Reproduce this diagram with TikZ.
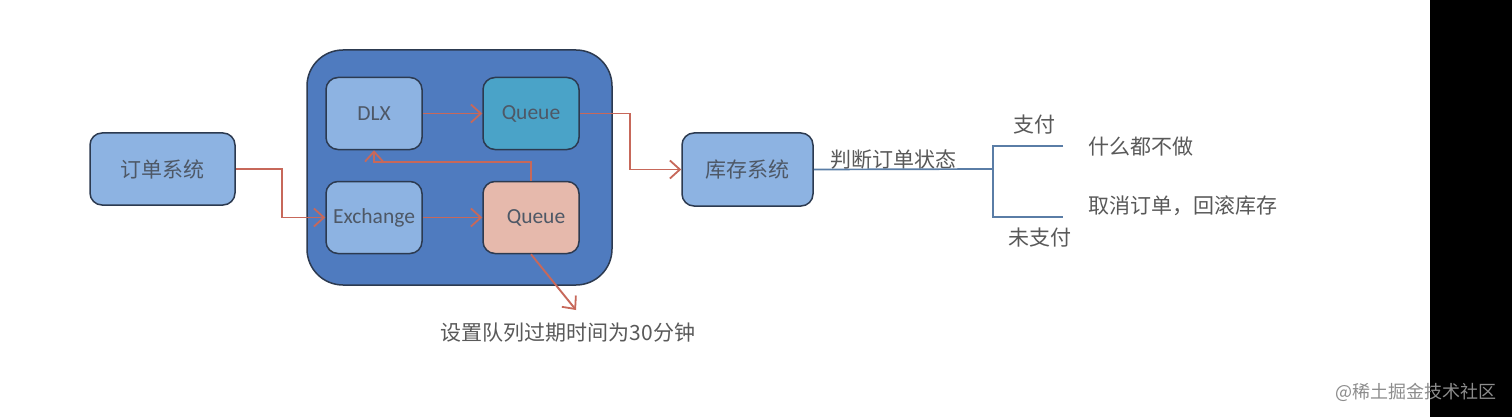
\documentclass[tikz,border=0pt]{standalone}
\usepackage{fontspec}
\setmainfont{Carlito}
\newfontfamily\cjk{Noto Sans CJK SC}
\usetikzlibrary{positioning, arrows.meta}
\definecolor{outerblue}{HTML}{4F7BBF}
\definecolor{lightblue}{HTML}{8DB3E2}
\definecolor{tealq}{HTML}{4AA3C8}
\definecolor{pinkq}{HTML}{E6B9AC}
\definecolor{edgec}{HTML}{2C3A50}
\definecolor{redline}{HTML}{C7685A}
\definecolor{txt}{HTML}{595959}
\definecolor{boxtxt}{HTML}{4E5866}
\definecolor{bracket}{HTML}{5A7DA6}
\tikzset{
  sysbox/.style={draw=edgec, fill=lightblue, rounded corners=12pt, line width=1.5pt,
                 align=center, text=boxtxt, font=\cjk\fontsize{21}{25}\selectfont},
  mqbox/.style={draw=edgec, fill=lightblue, rounded corners=12pt, line width=1.5pt,
                minimum width=96pt, minimum height=72pt, align=center, text=boxtxt,
                font=\fontsize{21.5}{25}\selectfont},
  arr/.style={-{Straight Barb[length=10pt, width=18pt, line width=1.8pt]}, draw=redline,
              line width=1.9pt},
  bline/.style={draw=bracket, line width=1.7pt},
  lbl/.style={text=txt, inner sep=0pt, font=\cjk\fontsize{21}{25}\selectfont},
}
\begin{document}
\begin{tikzpicture}[x=1pt, y=-1pt]
  \useasboundingbox (0,0) rectangle (1512,417);
  \fill[white] (0,0) rectangle (1512,417);
  \fill[black] (1430,0) rectangle (1512,417);

  \node[draw=edgec, fill=outerblue, rounded corners=36pt, line width=1.5pt,
        minimum width=305pt, minimum height=235pt] (mq) at (459.5,167.5) {};
  \node[mqbox] (dlx) at (374,113.5) {DLX};
  \node[mqbox, fill=tealq] (queueA) at (531,113.5) {Queue};
  \node[mqbox] (exch) at (374,217.5) {Exchange};
  \node[mqbox, fill=pinkq] (queueB) at (531,217.5) {\hspace{10pt}Queue};

  \node[sysbox, minimum width=145pt, minimum height=72pt] (order) at (162.5,169) {订单系统};
  \node[sysbox, minimum width=131pt, minimum height=73pt] (stock) at (747.5,169.5) {库存系统};

  \node[lbl] (expireTxt) at (568,333) {设置队列过期时间为30分钟};
  \coordinate (expire) at (576,310);

  \coordinate (fork) at (993,169);
  \coordinate (payEnd) at (1063,146);
  \coordinate (unpayEnd) at (1063,217);
  \node[lbl] (judge) at (893,160) {判断订单状态};
  \node[lbl] (pay) at (1034,125) {支付};
  \node[lbl] (unpay) at (1040,238) {未支付};
  \node[lbl, anchor=west] (nothing) at (1088,147) {什么都不做};
  \node[lbl, anchor=west] (rollback) at (1088,206) {取消订单，回滚库存};

  \draw[arr] (order.east) -- ++(46,0) |- (exch.west);
  \draw[arr] (dlx.east) -- (queueA.west);
  \draw[arr] (exch.east) -- (queueB.west);
  \draw[arr] (queueB.north) -- ++(0,-19) -| (dlx.south);
  \draw[arr] (queueA.east) -- ++(50,0) |- (stock.west);
  \draw[arr] (queueB.south) -- (expire);

  \draw[bline] (stock.east) -- (fork);
  \draw[bline] (payEnd) -| (fork) |- (unpayEnd);

  \node[text=black!45, font=\cjk\fontsize{18}{22}\selectfont] (mark) at (1416,392) {@稀土掘金技术社区};
\end{tikzpicture}
\end{document}
